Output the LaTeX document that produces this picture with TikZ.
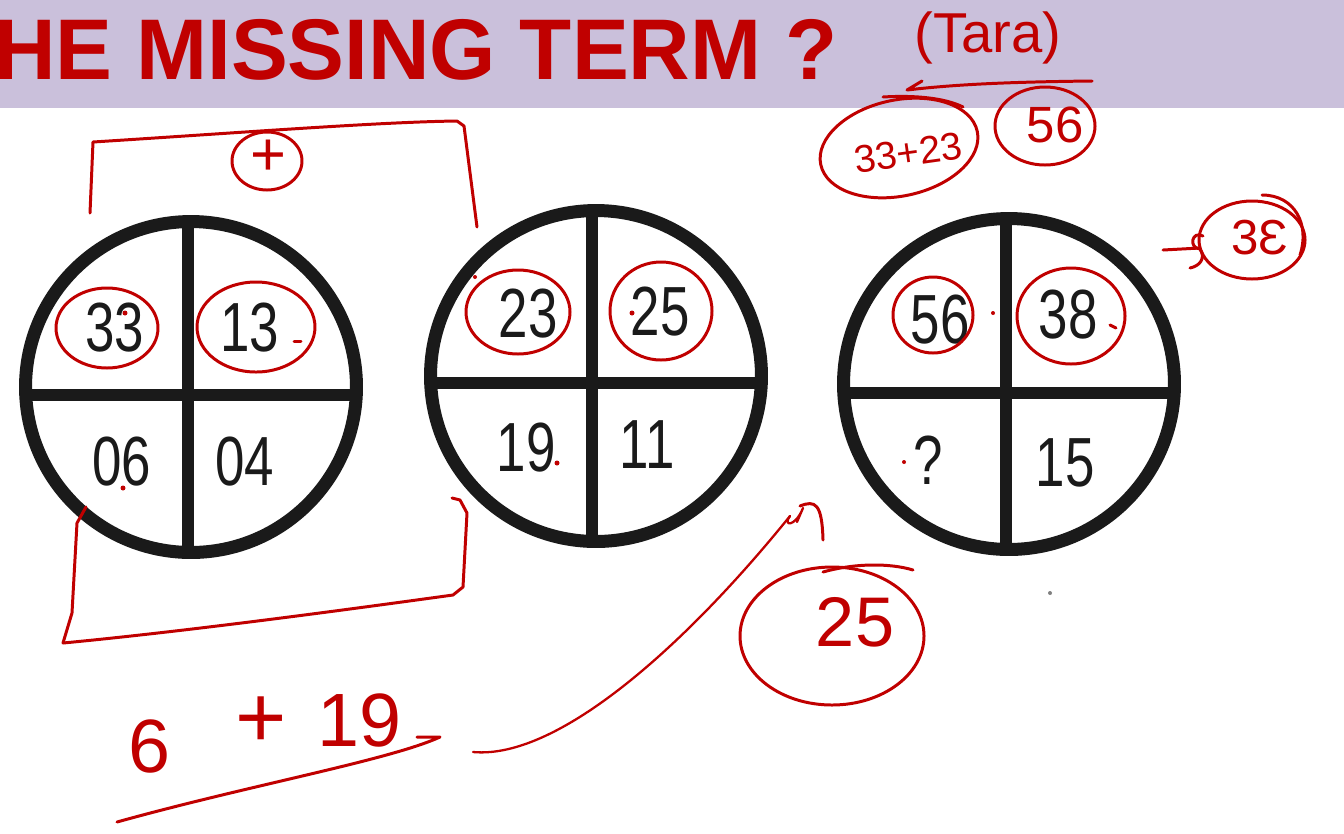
\documentclass[tikz,border=0pt]{standalone}
\usepackage{fontspec}
\setmainfont{Liberation Sans}
\usetikzlibrary{positioning, calc}
\definecolor{figink}{HTML}{1A1A1A}
\definecolor{figred}{HTML}{C00000}
\definecolor{figband}{HTML}{CAC0DB}

\begin{document}
\begin{tikzpicture}[
  x=0.02cm, y=-0.02cm,
  line cap=round, line join=round,
  ring/.style = {draw=figink, line width=7.4pt, circle, minimum size=6.62cm,
                 inner sep=0pt, outer sep=0pt},
  bar/.style  = {draw=figink, line width=6.8pt, line cap=butt},
  num/.style  = {font=\fontsize{39.6}{40}\selectfont, text=figink, xscale=0.76,
                 inner sep=0pt, anchor=center},
  ttl/.style  = {font=\bfseries\fontsize{49}{50}\selectfont, text=figred,
                 inner sep=0pt, anchor=base west, xscale=0.99},
  pen/.style  = {draw=figred, line width=1.7pt},
  hw/.style   = {text=figred, inner sep=0pt, anchor=center}
]
\useasboundingbox (0,0) rectangle (1344,833);

% 标题栏
\fill[figband] (0,0) rectangle (1344,108);
\node[ttl] (title) at (-6,79) {HE MISSING TERM ?};

% 三个圆盘
\node[ring] (c1) at (191,387) {};
\node[ring] (c2) at (596,376) {};
\node[ring] (c3) at (1009,384) {};

\draw[bar] ($(c1.north)+(-3,0)$) -- ($(c1.south)+(-3,0)$);
\draw[bar] ($(c1.west)+(0,8)$) -- ($(c1.east)+(0,8)$);
\draw[bar] ($(c2.north)+(-4,0)$) -- ($(c2.south)+(-4,0)$);
\draw[bar] ($(c2.west)+(0,7)$) -- ($(c2.east)+(0,7)$);
\draw[bar] ($(c3.north)+(-3,0)$) -- ($(c3.south)+(-3,0)$);
\draw[bar] ($(c3.west)+(0,9)$) -- ($(c3.east)+(0,9)$);

% 数字
\node[num] (a1) at (115,328) {33};
\node[num] (a2) at (250,328) {13};
\node[num] (a3) at (122,462) {06};
\node[num] (a4) at (245,462) {04};
\node[num] (b1) at (528,314) {23};
\node[num] (b2) at (660,312) {25};
\node[num] (b3) at (526,448) {19};
\node[num] (b4) at (647,445) {11};
\node[num] (q1) at (940,320) {56};
\node[num] (q2) at (1068,315) {38};
\node[num] (q3) at (928,460) {?};
\node[num] (q4) at (1065,463) {15};

% 红笔圈
\draw[pen] ($(a1)+(-8,0)$) ellipse [x radius=51, y radius=40];
\draw[pen] ($(a2)+(6,-1)$) ellipse [x radius=59, y radius=45];
\draw[pen] ($(b1)+(-10,-2)$) ellipse [x radius=52, y radius=42];
\draw[pen] ($(b2)+(1,-1)$) ellipse [x radius=51, y radius=49];
\draw[pen] ($(q1)+(-7,-5)$) ellipse [x radius=40, y radius=38];
\draw[pen] ($(q2)+(3,1)$) ellipse [x radius=54, y radius=48];

% 上方括号和加号
\node[hw, font=\fontsize{35}{35}\selectfont] (plus) at (268,158) {+};
\draw[pen] ($(plus)+(-1,3)$) ellipse [x radius=35, y radius=29];
\draw[pen] (90,213) -- (93,142) .. controls (250,132) and (380,122) .. (457,121)
  -- (464,126) -- (477,227);

% 下方括号
\draw[pen] (86,507) -- (77,523) -- (72,613) -- (63,643)
  .. controls (200,630) and (380,605) .. (453,595) -- (463,587) -- (467,513)
  -- (460,500) -- (452,498);

% 6 + 19
\node[hw, font=\fontsize{43}{43}\selectfont] (six) at (150,746) {6};
\node[hw, font=\fontsize{50}{50}\selectfont] (plus2) at (261,722) {+};
\node[hw, font=\fontsize{43}{43}\selectfont] (nine) at (360,720) {19};
\draw[pen] (117,822) .. controls (250,785) and (390,760) .. (440,737) -- (417,737);

% 曲线箭头
\coordinate (cfrom) at (473,752);
\coordinate (cto) at (790,516);
\draw[pen, line width=1.3pt] (cfrom) .. controls (560,760) and (690,640) .. (cto);
\draw[pen, line width=1.3pt] (cto) .. controls (782,526) and (795,528) .. (803,508) -- (797,522);
\draw[pen] (800,506) .. controls (815,500) and (822,503) .. (823,540);

% 答案 25
\node[hw, font=\fontsize{40}{40}\selectfont] (ans) at (855,622) {25};
\draw[pen] ($(ans)+(-23,14)$) ellipse [x radius=92, y radius=69];
\draw[pen] (823,572) .. controls (855,563) and (890,563) .. (913,570);

% 右上角
\node[hw, font=\fontsize{32}{32}\selectfont] (tara) at (988,38) {(Tara)};
\coordinate (arrR) at (1092,81);
\coordinate (arrL) at (907,90);
\draw[pen] (arrR) .. controls (1000,82) and (950,85) .. (arrL) -- (922,81);

\node[hw, rotate=8, font=\fontsize{22}{22}\selectfont] (sum) at (908,153) {33+23};
\draw[pen, rotate around={12:(899,148)}] (899,148) ellipse [x radius=80, y radius=48];
\draw[pen] (883,97) .. controls (915,95) and (945,98) .. (963,107);

\node[hw, font=\fontsize{29}{29}\selectfont] (s56) at (1055,125) {56};
\draw[pen] ($(s56)+(-10,1)$) ellipse [x radius=50, y radius=39];

\node[hw, font=\fontsize{28}{28}\selectfont] (s38) at (1260,238) {3Ɛ};
\draw[pen] ($(s38)+(-8,2)$) ellipse [x radius=53, y radius=39];
\draw[pen] (1262,195) .. controls (1295,195) and (1310,225) .. (1300,255);
\coordinate (inA) at (1163,250);
\draw[pen] (inA) -- (1200,248);
\draw[pen] (1203,236) .. controls (1192,230) and (1188,248) .. (1200,249)
  .. controls (1206,258) and (1200,266) .. (1190,268);

% 小点
\fill[figred] (125,313) circle [radius=2.5];
\draw[pen] (294,341) -- (301,341);
\fill[figred] (123,488) circle [radius=2.5];
\fill[figred] (475,277) circle [radius=2];
\fill[figred] (632,313) circle [radius=2.5];
\fill[figred] (557,463) circle [radius=2.5];
\fill[figred] (993,313) circle [radius=2];
\draw[pen] (1110,325) -- (1116,328);
\fill[figred] (904,462) circle [radius=2];
\fill[gray] (1050,593) circle [radius=2];
\end{tikzpicture}
\end{document}
